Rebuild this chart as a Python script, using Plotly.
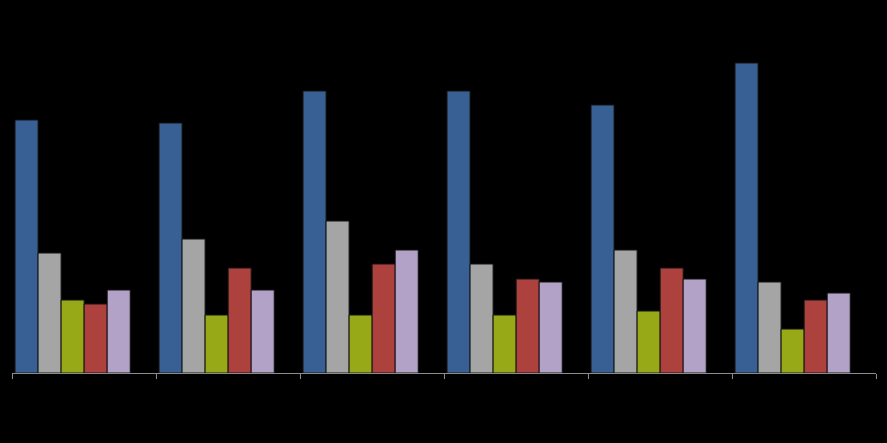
import plotly.graph_objects as go

# Six groups, five series (arbitrary units)
categories = ["A", "B", "C", "D", "E", "F"]
series_blue = [253, 250, 282, 282, 268, 310]
series_gray = [120, 134, 152, 109, 123, 91]
series_green = [73, 58, 58, 58, 62, 44]
series_red = [69, 105, 109, 94, 105, 73]
series_lavender = [83, 83, 123, 91, 94, 80]

series = [
    ("Series 1", series_blue, "#386094"),
    ("Series 2", series_gray, "#a5a5a5"),
    ("Series 3", series_green, "#97a917"),
    ("Series 4", series_red, "#ad413d"),
    ("Series 5", series_lavender, "#b3a2c8"),
]

fig = go.Figure()

# bars sit left in each slot (room for a sixth, empty series)
bar_w = 0.16
for i, (name, vals, color) in enumerate(series):
    fig.add_trace(
        go.Bar(
            x=categories,
            y=vals,
            name=name,
            width=bar_w,
            offset=-0.479 + i * bar_w,
            marker={"color": color, "line": {"color": "#151515", "width": 1}},
        )
    )

fig.update_layout(
    width=887,
    height=443,
    margin={"l": 12, "r": 11, "t": 0, "b": 70},
    paper_bgcolor="#000000",
    plot_bgcolor="#000000",
    showlegend=False,
    barmode="overlay",
)
fig.update_xaxes(
    showticklabels=False,
    showgrid=False,
    showline=True,
    linecolor="#8c8c8c",
    linewidth=1,
    ticks="outside",
    tickson="boundaries",
    ticklen=5,
    tickcolor="#8c8c8c",
    range=[-0.5, 5.5],
)
fig.update_yaxes(visible=False, range=[0, 373], showgrid=False, zeroline=False)

# drop the browser's default page margin so the chart fills the window
fig.write_html(
    "out.html",
    config={"displayModeBar": False},
    post_script="document.body.style.margin='0';document.body.style.overflow='hidden';"
    "document.body.style.background='#000';",
)
